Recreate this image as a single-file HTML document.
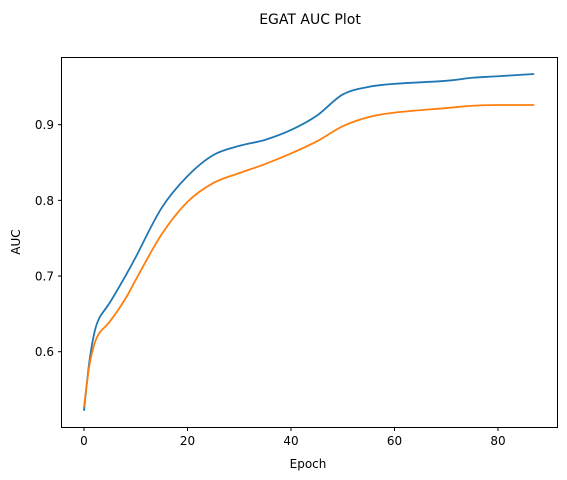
<!DOCTYPE html>
<html><head><meta charset="utf-8"><style>
html,body{margin:0;padding:0;background:#fff;}
svg{display:block;font-family:"DejaVu Sans","Liberation Sans",sans-serif;}
</style></head><body>
<svg id="chart" width="567" height="480">
<text x="310" y="24" text-anchor="middle" font-size="14">EGAT AUC Plot</text>
<g id="plot"></g>
<rect x="61.5" y="57.5" width="496" height="370" fill="none" stroke="#000" stroke-width="1"/>
<text x="308" y="468" text-anchor="middle" font-size="12">Epoch</text>
<text x="20" y="242" text-anchor="middle" font-size="12" transform="rotate(-90 20 242)">AUC</text>
</svg>
<script>
const epochs = [0,1,2,3,5,8,10,15,20,25,30,35,40,45,50,55,60,70,75,80,87];
const blueAuc = [0.522,0.585,0.625,0.645,0.665,0.700,0.725,0.790,0.832,0.860,0.872,0.880,0.893,0.912,0.940,0.950,0.954,0.958,0.962,0.964,0.967];
const orangeAuc = [0.527,0.580,0.610,0.625,0.640,0.670,0.695,0.755,0.798,0.823,0.836,0.848,0.862,0.878,0.898,0.910,0.916,0.922,0.925,0.926,0.926];
const xTicks = [0,20,40,60,80];
const yTicks = [0.6,0.7,0.8,0.9];

const NS = "http://www.w3.org/2000/svg";
function xs(v){ return 84 + v * 103.5 / 20; }
function ys(v){ return 124.7 + (0.9 - v) * 756.7; }
const svg = document.getElementById('chart');
const g = document.getElementById('plot');

xTicks.forEach(t => {
  const l = document.createElementNS(NS,'line');
  
  
  l.setAttribute('x1',xs(t)); l.setAttribute('x2',xs(t));
  l.setAttribute('y1',427.5); l.setAttribute('y2',431);
  l.setAttribute('stroke','#000');
  svg.appendChild(l);
  const tx = document.createElementNS(NS,'text');
  
  
  tx.setAttribute('x',xs(t)); tx.setAttribute('y',445);
  tx.setAttribute('text-anchor','middle'); tx.setAttribute('font-size','12');
  tx.textContent = t;
  svg.appendChild(tx);
});
yTicks.forEach(t => {
  const l = document.createElementNS(NS,'line');
  
  
  l.setAttribute('x1',58); l.setAttribute('x2',61.5);
  l.setAttribute('y1',ys(t)); l.setAttribute('y2',ys(t));
  l.setAttribute('stroke','#000');
  svg.appendChild(l);
  const tx = document.createElementNS(NS,'text');
  
  
  tx.setAttribute('x',54); tx.setAttribute('y',ys(t)+4.5);
  tx.setAttribute('text-anchor','end'); tx.setAttribute('font-size','12');
  tx.textContent = t.toFixed(1);
  svg.appendChild(tx);
});

function pathFor(vals){
  const p = epochs.map((e,i)=>[xs(e),ys(vals[i])]);
  let d = 'M'+p[0][0]+','+p[0][1];
  for(let i=0;i<p.length-1;i++){
    const p0=p[i-1]||p[i], p1=p[i], p2=p[i+1], p3=p[i+2]||p2;
    const c1x=p1[0]+(p2[0]-p0[0])/6, c1y=p1[1]+(p2[1]-p0[1])/6;
    const c2x=p2[0]-(p3[0]-p1[0])/6, c2y=p2[1]-(p3[1]-p1[1])/6;
    d+=' C'+c1x+','+c1y+' '+c2x+','+c2y+' '+p2[0]+','+p2[1];
  }
  return d;
}
const b = document.createElementNS(NS,'path');


b.setAttribute('d',pathFor(blueAuc));
b.setAttribute('fill','none'); b.setAttribute('stroke','#1f77b4'); b.setAttribute('stroke-width','1.8');
g.appendChild(b);
const o = document.createElementNS(NS,'path');


o.setAttribute('d',pathFor(orangeAuc));
o.setAttribute('fill','none'); o.setAttribute('stroke','#ff7f0e'); o.setAttribute('stroke-width','1.8');
g.appendChild(o);
</script>
</body></html>
